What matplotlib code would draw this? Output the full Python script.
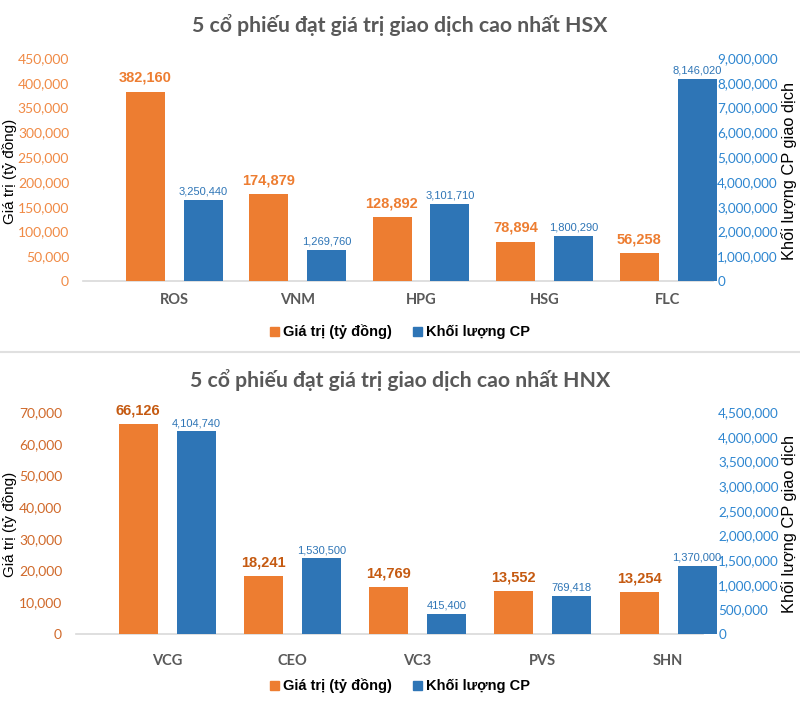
import matplotlib
matplotlib.use("Agg")
import matplotlib.pyplot as plt
from matplotlib.patches import Patch
from matplotlib.ticker import FuncFormatter, MultipleLocator
from matplotlib.lines import Line2D
import matplotlib.font_manager as fm

# ---------------- data ----------------
hsx_codes = ["ROS", "VNM", "HPG", "HSG", "FLC"]
hsx_value = [382160, 174879, 128892, 78894, 56258]
hsx_volume = [3250440, 1269760, 3101710, 1800290, 8146020]

hnx_codes = ["VCG", "CEO", "VC3", "PVS", "SHN"]
hnx_value = [66126, 18241, 14769, 13552, 13254]
hnx_volume = [4104740, 1530500, 415400, 769418, 1370000]

title_hsx = "5 cổ phiếu đạt giá trị giao dịch cao nhất HSX"
title_hnx = "5 cổ phiếu đạt giá trị giao dịch cao nhất HNX"
ylabel_left = "Giá trị (tỷ đồng)"
ylabel_right = "Khối lượng CP giao dịch"
legend_labels = ["Giá trị (tỷ đồng)", "Khối lượng CP"]

avail = {f.name for f in fm.fontManager.ttflist}
CAL = ["Lato", "DejaVu Sans"] if "Lato" in avail else ["DejaVu Sans"]
NARROW = ["Liberation Sans Narrow", "DejaVu Sans"] if "Liberation Sans Narrow" in avail else ["Liberation Sans", "DejaVu Sans"]
ARIAL = ["Liberation Sans", "DejaVu Sans"]

ORANGE = "#ED7D31"
BLUE = "#2E75B6"
GRAY = "#595959"

W, H = 800, 706
fig = plt.figure(figsize=(W / 100, H / 100), dpi=100)


def fx(px):
    return px / W


def fy(py):
    return 1 - py / H


def comma(v, pos=None):
    return f"{int(v):,}"


def make_panel(codes, values, volumes, box, centers_px, vmax, vstep, volmax, volstep,
               title, title_y, lab_cy, left_tick_color, val_label_color,
               left_pad, right_pad, xlabel_y, legend_y):
    x0, x1, ytop, ybot = box
    ax = fig.add_axes([fx(x0), fy(ybot), fx(x1 - x0), (ybot - ytop) / H])
    c0, c4 = centers_px
    scale = (c4 - c0) / 4
    ax.set_xlim((x0 - c0) / scale, (x1 - c0) / scale)
    ax.set_ylim(0, vmax)
    ax2 = ax.twinx()
    ax2.set_ylim(0, volmax)

    bw = 39 / scale
    off = 29 / scale
    pos = list(range(len(codes)))
    ax.bar([p - off for p in pos], values, width=bw, color=ORANGE, clip_on=False, zorder=3)
    ax2.bar([p + off for p in pos], volumes, width=bw, color=BLUE, clip_on=False, zorder=3)

    for p, v in zip(pos, values):
        ax.annotate(comma(v), (p - off, v), xytext=(0, 5), textcoords="offset points",
                    ha="center", va="bottom", color=val_label_color, fontsize=10.5,
                    fontweight="bold", family=NARROW, annotation_clip=False)
    for p, v in zip(pos, volumes):
        ax2.annotate(comma(v), (p + off, v), xytext=(0, 2.5), textcoords="offset points",
                     ha="center", va="bottom", color=BLUE, fontsize=8,
                     family=NARROW, annotation_clip=False)

    for a in (ax, ax2):
        for s in a.spines.values():
            s.set_visible(False)
    ax.axhline(0, color="#D9D9D9", lw=1.2, zorder=2, clip_on=False)

    ax.yaxis.set_major_locator(MultipleLocator(vstep))
    ax.yaxis.set_major_formatter(FuncFormatter(comma))
    ax2.yaxis.set_major_locator(MultipleLocator(volstep))
    ax2.yaxis.set_major_formatter(FuncFormatter(comma))
    ax.tick_params(axis="y", length=0, pad=left_pad, labelcolor=left_tick_color, labelsize=10)
    ax2.tick_params(axis="y", length=0, pad=right_pad, labelcolor="#2E86D0", labelsize=9.7)
    for t in ax.get_yticklabels() + ax2.get_yticklabels():
        t.set_family(CAL)

    ax.set_xticks(pos)
    ax.set_xticklabels(codes, fontsize=10.5, fontweight="bold", color=GRAY, family=CAL)
    ax.tick_params(axis="x", length=0, pad=(xlabel_y - ybot) * 0.72 - 5)

    fig.text(0.5, fy(title_y), title, ha="center", va="center", fontsize=15.3,
             fontweight="bold", color=GRAY, family=CAL)
    fig.text(fx(10), fy(lab_cy), ylabel_left, rotation=90, ha="center", va="center",
             fontsize=11, color="black", family=ARIAL)
    fig.text(fx(789), fy(lab_cy), ylabel_right, rotation=90, ha="center", va="center",
             fontsize=11.8, color="black", family=ARIAL)

    handles = [Patch(color=ORANGE), Patch(color=BLUE)]
    fig.legend(handles, legend_labels, loc="center", bbox_to_anchor=(0.5, fy(legend_y)),
               ncol=2, frameon=False, handlelength=0.6, handleheight=0.6,
               handletextpad=0.25, columnspacing=1.5,
               prop=dict(family=ARIAL, weight="bold", size=10.5))
    return ax, ax2


make_panel(hsx_codes, hsx_value, hsx_volume, (83, 713, 58, 281), (174, 668),
           450000, 50000, 9000000, 1000000, title_hsx, 25, 171,
           "#F08A45", ORANGE, 10, 3, 300, 332)
make_panel(hnx_codes, hnx_value, hnx_volume, (76, 703, 412, 634), (167, 668),
           70000, 10000, 4500000, 500000, title_hnx, 380, 524,
           "#D0692A", "#C55A11", 10, 11, 661, 686)

fig.add_artist(Line2D([0, 1], [fy(352), fy(352)], color="#E0E0E0", lw=1.5,
                      transform=fig.transFigure))

fig.savefig("out.png", dpi=100)
